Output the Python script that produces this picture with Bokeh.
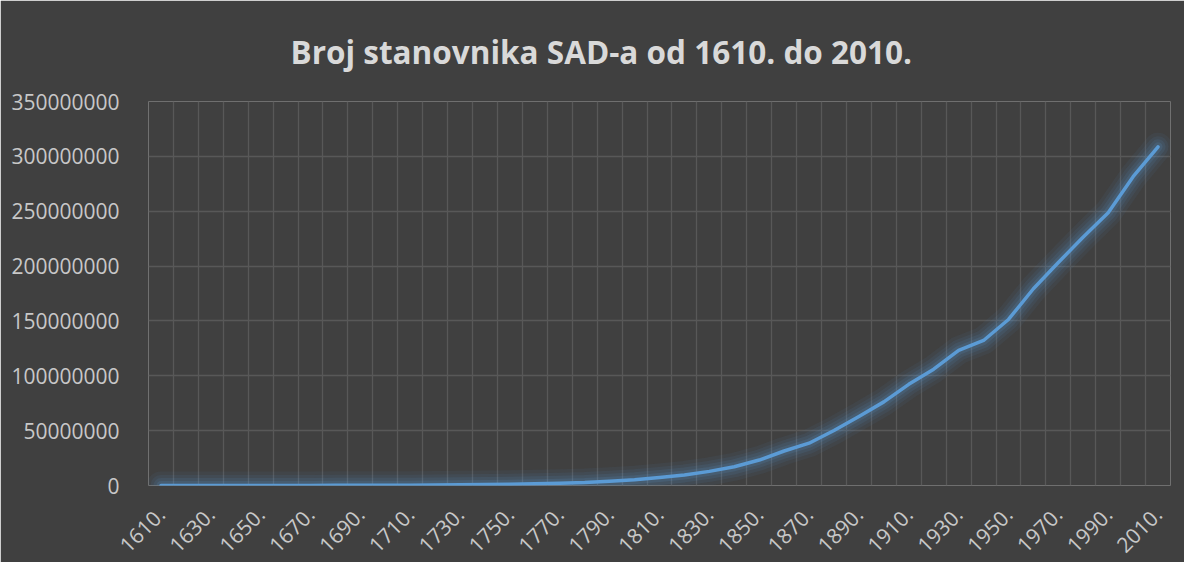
from bokeh.plotting import figure
from bokeh.models import FixedTicker, NumeralTickFormatter, Range1d, ColumnDataSource
from bokeh.embed import file_html
from bokeh.resources import INLINE

years = list(range(1610, 2011, 10))
labels = [f"{y}." for y in years]
population = [
    350, 2302, 4646, 26634, 50368, 75058, 111935, 151507, 210372, 250888,
    331711, 466185, 629445, 905563, 1170760, 1593625, 2148076, 2780369,
    3929214, 5308483, 7239881, 9638453, 12866020, 17069453, 23191876,
    31443321, 38558371, 50189209, 62979766, 76212168, 92228496, 106021537,
    123202624, 132164569, 151325798, 179323175, 203211926, 226545805,
    248709873, 281421906, 308745538,
]
y_ticks = [0, 50000000, 100000000, 150000000, 200000000, 250000000, 300000000, 350000000]
title_text = "Broj stanovnika SAD-a od 1610. do 2010."

idx = list(range(len(years)))
src = ColumnDataSource(dict(x=idx, y=population))

BG = "#404040"
GRID = "#585858"
LINE = "#5B9BD5"

p = figure(width=1184, height=562, output_backend="svg", toolbar_location=None,
           x_range=Range1d(-0.5, len(years) - 0.5), y_range=Range1d(0, 350000000),
           min_border_left=148, min_border_right=14, min_border_top=101, min_border_bottom=76,
           background_fill_color=BG, border_fill_color=BG, outline_line_color=None)

p.title.text = title_text
p.title.text_font = "Open Sans"
p.title.text_font_size = "31.5px"
p.title.text_font_style = "bold"
p.title.text_color = "#D9D9D9"
p.title.align = "left"
p.title.vertical_align = "top"
p.title.offset = 142
p.title.standoff = 54

# glow
for w, a in [(28, 0.06), (21, 0.08), (15, 0.10), (9, 0.14)]:
    p.line("x", "y", source=src, line_color=LINE, line_width=w, line_alpha=a,
           line_join="round", line_cap="round")
p.line("x", "y", source=src, line_color=LINE, line_width=3.5,
       line_join="round", line_cap="round")

# axes
p.xaxis.ticker = FixedTicker(ticks=idx[::2])
p.xaxis.major_label_overrides = {i: labels[i] for i in idx}
p.xaxis.major_label_orientation = 0.785398
p.yaxis.ticker = FixedTicker(ticks=y_ticks)
p.yaxis.formatter = NumeralTickFormatter(format="0")
for ax in (p.xaxis, p.yaxis):
    ax.axis_line_color = None
    ax.major_tick_line_color = None
    ax.minor_tick_line_color = None
    ax.major_label_text_font = "Open Sans"
    ax.major_label_text_font_size = "21px"
    ax.major_label_text_color = "#C8C8C8"
p.yaxis.major_label_standoff = 23
p.xaxis.major_label_standoff = 19

p.xgrid.ticker = FixedTicker(ticks=[i - 0.5 for i in range(len(years) + 1)])
p.xgrid.grid_line_color = GRID
p.xgrid.grid_line_width = 1.3
p.ygrid.grid_line_color = GRID
p.ygrid.grid_line_width = 1.3

open("out.html", "w").write(file_html(p, INLINE))
